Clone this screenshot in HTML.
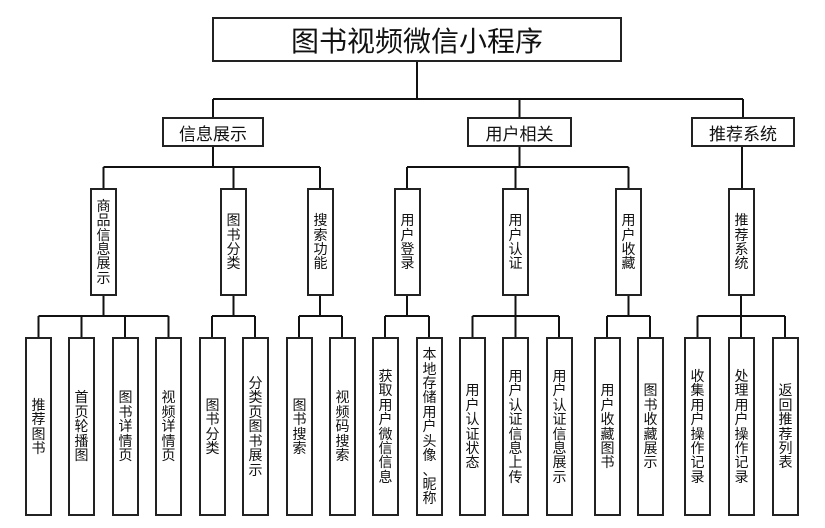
<!DOCTYPE html>
<html><head><meta charset="utf-8"><style>
body{margin:0;background:#fff;width:825px;height:528px;position:relative;overflow:hidden;font-family:"Liberation Sans","Noto Sans CJK SC",sans-serif;color:#111}
.b{position:absolute;border:2px solid #222;box-sizing:border-box;background:#fff;display:flex;align-items:center;justify-content:center}
.v span{display:block;width:14px;font-size:14px;line-height:14.4px;text-align:center;word-break:break-all;line-break:anywhere}
.h{font-size:17px}
svg{position:absolute;left:0;top:0}
</style></head><body>
<svg width="825" height="528"><g stroke="#111" stroke-width="2" fill="none">
<path d="M417 62V99M213 99H743M213 99V117M519.5 99V117M743 99V117"/>
<path d="M213 146V167M103.5 167H320M103.5 167V188M233.5 167V188M320 167V188"/>
<path d="M519.5 146V167M407 167H628.5M407 167V188M515.5 167V188M628.5 167V188"/>
<path d="M742 146V188"/>
<path d="M103.5 295V316M38.5 316H168.5M38.5 316V337M81.5 316V337M125 316V337M168.5 316V337"/>
<path d="M233.5 295V316M212 316H255M212 316V337M255 316V337"/>
<path d="M320 295V316M299 316H342M299 316V337M342 316V337"/>
<path d="M407 295V316M385 316H429M385 316V337M429 316V337"/>
<path d="M515.5 295V316M472.5 316H559M472.5 316V337M515.5 316V337M559 316V337"/>
<path d="M628.5 295V316M607 316H650M607 316V337M650 316V337"/>
<path d="M741 295V316M697.5 316H785M697.5 316V337M741 316V337M785 316V337"/>
</g></svg>
<div class="b" style="left:212px;top:17px;width:410px;height:45px;font-size:28px">图书视频微信小程序</div>
<div class="b h" style="left:162px;top:117px;width:102px;height:30px">信息展示</div>
<div class="b h" style="left:467px;top:117px;width:105px;height:30px">用户相关</div>
<div class="b h" style="left:691px;top:117px;width:104px;height:30px">推荐系统</div>

<div class="b v" style="left:90px;top:188px;width:27px;height:108px"><span>商品信息展示</span></div>
<div class="b v" style="left:220px;top:188px;width:27px;height:108px"><span>图书分类</span></div>
<div class="b v" style="left:307px;top:188px;width:27px;height:108px"><span>搜索功能</span></div>
<div class="b v" style="left:394px;top:188px;width:27px;height:108px"><span>用户登录</span></div>
<div class="b v" style="left:502px;top:188px;width:27px;height:108px"><span>用户认证</span></div>
<div class="b v" style="left:615px;top:188px;width:27px;height:108px"><span>用户收藏</span></div>
<div class="b v" style="left:728px;top:188px;width:27px;height:108px"><span>推荐系统</span></div>

<div class="b v" style="left:25px;top:337px;width:27px;height:179px"><span>推荐图书</span></div>
<div class="b v" style="left:68px;top:337px;width:27px;height:179px"><span>首页轮播图</span></div>
<div class="b v" style="left:112px;top:337px;width:27px;height:179px"><span>图书详情页</span></div>
<div class="b v" style="left:155px;top:337px;width:27px;height:179px"><span>视频详情页</span></div>
<div class="b v" style="left:199px;top:337px;width:27px;height:179px"><span>图书分类</span></div>
<div class="b v" style="left:242px;top:337px;width:27px;height:179px"><span>分类页图书展示</span></div>
<div class="b v" style="left:286px;top:337px;width:27px;height:179px"><span>图书搜索</span></div>
<div class="b v" style="left:329px;top:337px;width:27px;height:179px"><span>视频码搜索</span></div>
<div class="b v" style="left:372px;top:337px;width:27px;height:179px"><span>获取用户微信信息</span></div>
<div class="b v" style="left:416px;top:337px;width:27px;height:179px"><span>本地存储用户头像、昵称</span></div>
<div class="b v" style="left:459px;top:337px;width:27px;height:179px"><span>用户认证状态</span></div>
<div class="b v" style="left:502px;top:337px;width:27px;height:179px"><span>用户认证信息上传</span></div>
<div class="b v" style="left:546px;top:337px;width:27px;height:179px"><span>用户认证信息展示</span></div>
<div class="b v" style="left:594px;top:337px;width:27px;height:179px"><span>用户收藏图书</span></div>
<div class="b v" style="left:637px;top:337px;width:27px;height:179px"><span>图书收藏展示</span></div>
<div class="b v" style="left:684px;top:337px;width:27px;height:179px"><span>收集用户操作记录</span></div>
<div class="b v" style="left:728px;top:337px;width:27px;height:179px"><span>处理用户操作记录</span></div>
<div class="b v" style="left:772px;top:337px;width:27px;height:179px"><span>返回推荐列表</span></div>
</body></html>
